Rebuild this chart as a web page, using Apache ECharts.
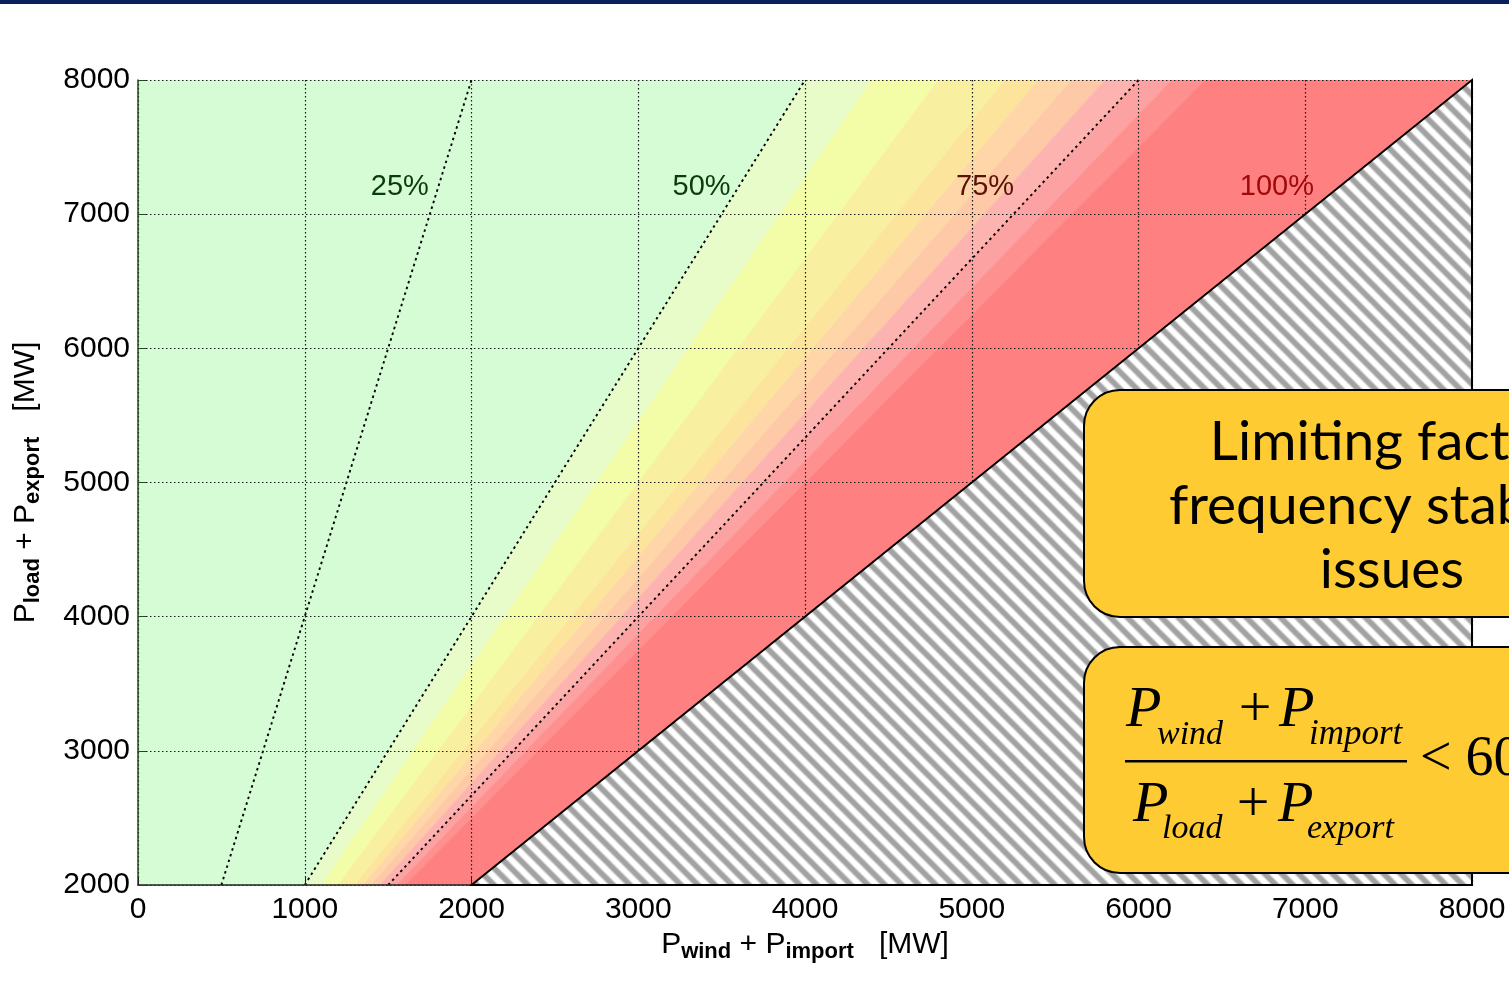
<!DOCTYPE html>
<html><head><meta charset="utf-8">
<script src="https://cdn.jsdelivr.net/npm/echarts@6/dist/echarts.min.js"></script>
<style>html,body{margin:0;padding:0;background:#fff}#c{width:1509px;height:990px}</style>
</head><body><div id="c"></div>
<script>
// ---- data ----
const X_MIN = 0, X_MAX = 8000, Y_MIN = 2000, Y_MAX = 8000, TICK = 1000;
const bandLevels = [0, 0.5, 0.55, 0.6, 0.65, 0.675, 0.7, 0.725, 0.75, 0.775, 0.8, 1.0];
const bandColors = ['#D6FCD6', '#E7FCC8', '#F3FCA6', '#F8F0A0', '#FCE49C', '#FED6A8', '#FDC9A6', '#FDB4B0', '#FDA2A2', '#FF9090', '#FF8080'];
const ratioLines = [0.25, 0.5, 0.75];
const limitRatio = 1.0;
const ratioLabels = ['25%', '50%', '75%', '100%'];
const ratioLabelX = [1570, 3380, 5080, 6830];
const ratioLabelY = [7200, 7200, 7200, 7200];
const ratioLabelColors = ['#0B3A0B', '#0B3A0B', '#5A1206', '#A00A0A'];

// ---- hatch pattern ----
function makePattern() {
  const s = 17;
  const c = document.createElement('canvas');
  c.width = s; c.height = s;
  const g = c.getContext('2d');
  g.fillStyle = '#ffffff'; g.fillRect(0, 0, s, s);
  const draw = (w, col) => {
    g.strokeStyle = col; g.lineWidth = w;
    for (let k = -1; k <= 1; k++) {
      g.beginPath(); g.moveTo(-s, -s + k * s); g.lineTo(2 * s, 2 * s + k * s); g.stroke();
    }
  };
  draw(7, '#D0D0D0');
  draw(4.5, '#A2A2A2');
  return c;
}
const hatch = { image: makePattern(), repeat: 'repeat' };

const chart = echarts.init(document.getElementById('c'), null, { renderer: 'canvas' });

function renderBand(params, api) {
  const i = api.value(0);
  const lo = bandLevels[i], hi = bandLevels[i + 1];
  const pts = [api.coord([lo * Y_MIN, Y_MIN]), api.coord([lo * Y_MAX, Y_MAX]),
               api.coord([hi * Y_MAX, Y_MAX]), api.coord([hi * Y_MIN, Y_MIN])];
  return { type: 'polygon', shape: { points: pts }, style: { fill: bandColors[i], stroke: bandColors[i], lineWidth: 0.6 } };
}
function renderHatch(params, api) {
  const pts = [api.coord([limitRatio * Y_MIN, Y_MIN]), api.coord([limitRatio * Y_MAX, Y_MAX]), api.coord([X_MAX, Y_MIN])];
  return { type: 'polygon', shape: { points: pts }, style: { fill: hatch, stroke: '#000', lineWidth: 2 } };
}
function renderLabel(params, api) {
  const i = params.dataIndex;
  const p = api.coord([api.value(0), api.value(1)]);
  return { type: 'text', x: p[0], y: p[1],
    style: { text: ratioLabels[i], fill: ratioLabelColors[i], font: '29px "Liberation Sans"', align: 'center', verticalAlign: 'middle' } };
}

const axisFont = 'Liberation Sans';
const nameRich = {
  m: { fontSize: 30, fontFamily: axisFont, color: '#000', lineHeight: 36 },
  s: { fontSize: 22, fontWeight: 'bold', fontFamily: axisFont, color: '#000', lineHeight: 18, verticalAlign: 'bottom' }
};
const gridLine = { show: true, lineStyle: { type: [1.5, 2.5], color: '#1a1a1a', width: 1.2 } };
const plain = v => String(v);

// formula pieces (text element helper)
const serifI = (size) => 'italic ' + size + 'px "Liberation Serif"';
const serif = (size) => size + 'px "Liberation Serif"';
function txt(text, x, y, font, align) {
  return { type: 'text', x: x, y: y, z: 101, style: { text: text, font: font, fill: '#000', align: align || 'left', verticalAlign: 'middle' } };
}

const option = {
  animation: false,
  grid: { left: 138, right: 37, top: 80, bottom: 105, outerBoundsMode: 'none' },
  xAxis: {
    type: 'value', min: X_MIN, max: X_MAX, interval: TICK, z: 5,
    axisLine: { lineStyle: { color: '#222', width: 1.5 } },
    axisTick: { inside: true, length: 8, lineStyle: { color: '#222' } },
    axisLabel: { fontFamily: axisFont, fontSize: 30, color: '#000', margin: 10, formatter: plain },
    splitLine: gridLine,
    name: '{m|P}{s|wind}{m| + P}{s|import}{m|   [MW]}', nameLocation: 'middle', nameGap: 42,
    nameTextStyle: { rich: nameRich }
  },
  yAxis: {
    type: 'value', min: Y_MIN, max: Y_MAX, interval: TICK, z: 5,
    axisLine: { lineStyle: { color: '#1E4A1E', width: 1.5 } },
    axisTick: { inside: true, length: 8, lineStyle: { color: '#1E4A1E' } },
    axisLabel: { fontFamily: axisFont, fontSize: 30, color: '#000', margin: 8, formatter: plain },
    splitLine: gridLine,
    name: '{m|P}{s|load}{m| + P}{s|export}{m|   [MW]}', nameLocation: 'middle', nameGap: 94, nameRotate: 90,
    nameTextStyle: { rich: nameRich }
  },
  series: [
    { type: 'custom', renderItem: renderBand, data: bandColors.map((c, i) => [i]), z: 1, silent: true, clip: true },
    ...ratioLines.map(r => ({
      type: 'line', data: [[r * Y_MIN, Y_MIN], [r * Y_MAX, Y_MAX]], symbol: 'none', silent: true, z: 3,
      lineStyle: { color: '#000', width: 1.9, type: [2.5, 3.5] }
    })),
    { type: 'custom', renderItem: renderLabel, z: 6, silent: true,
      data: ratioLabelX.map((x, i) => [x, ratioLabelY[i]]) },
    { type: 'custom', renderItem: renderHatch, data: [[X_MAX, Y_MIN]], z: 10, silent: true }
  ],
  graphic: [
    { type: 'rect', shape: { x: 0, y: 0, width: 1509, height: 4 }, style: { fill: '#0B1F5C' }, z: 100 },
    { type: 'rect', shape: { x: 1084, y: 390, width: 720, height: 227, r: 36 }, style: { fill: '#FECB33', stroke: '#000', lineWidth: 2 }, z: 100 },
    { type: 'text', x: 1392, y: 506, z: 101,
      style: { text: 'Limiting factor:\nfrequency stability\nissues', font: '55px Lato', fill: '#000', align: 'center', verticalAlign: 'middle', lineHeight: 64 } },
    { type: 'rect', shape: { x: 1084, y: 647, width: 720, height: 226, r: 36 }, style: { fill: '#FECB33', stroke: '#000', lineWidth: 2 }, z: 100 },
    // numerator
    txt('P', 1126, 711, serifI(58)),
    txt('wind', 1157, 735, serifI(34)),
    txt('+', 1255, 711, serif(58), 'center'),
    txt('P', 1279, 711, serifI(58)),
    txt('import', 1309, 735, serifI(35)),
    { type: 'rect', shape: { x: 1125, y: 760, width: 282, height: 2.5 }, style: { fill: '#000' }, z: 101 },
    // denominator
    txt('P', 1133, 806, serifI(58)),
    txt('load', 1162, 829, serifI(34)),
    txt('+', 1253, 806, serif(58), 'center'),
    txt('P', 1278, 806, serifI(58)),
    txt('export', 1307, 829, serifI(34)),
    txt('< 60%', 1420, 760, serif(56))
  ]
};
chart.setOption(option);
</script>
</body></html>
